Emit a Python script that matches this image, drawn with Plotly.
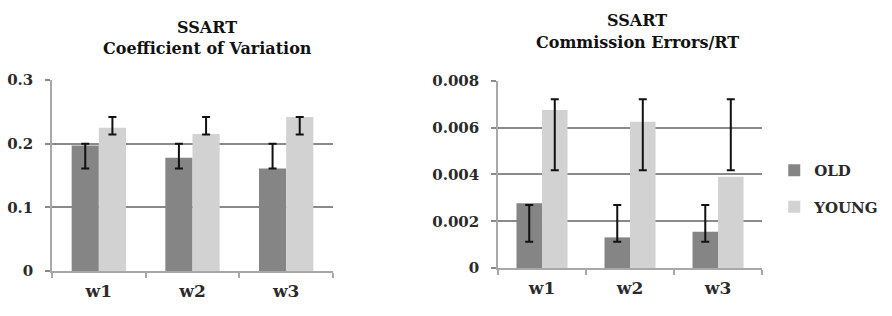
import plotly.graph_objects as go

categories = ["w1", "w2", "w3"]

# Left chart: Coefficient of Variation
cv_old = [0.197, 0.178, 0.161]
cv_young = [0.225, 0.215, 0.242]
cv_old_err_low = [0.161, 0.161, 0.161]
cv_old_err_high = [0.200, 0.200, 0.200]
cv_young_err_low = [0.2145, 0.2145, 0.2145]
cv_young_err_high = [0.242, 0.242, 0.242]

# Right chart: Commission Errors/RT
ce_old = [0.00277, 0.00131, 0.00155]
ce_young = [0.00676, 0.00626, 0.0039]
ce_old_err_low = [0.00112, 0.00112, 0.00112]
ce_old_err_high = [0.00270, 0.00270, 0.00270]
ce_young_err_low = [0.00418, 0.00418, 0.00418]
ce_young_err_high = [0.00722, 0.00722, 0.00722]

cv_ticks = [0, 0.1, 0.2, 0.3]
cv_tick_labels = ["<b>0</b>", "<b>0.1</b>", "<b>0.2</b>", "<b>0.3</b>"]
ce_ticks = [0, 0.002, 0.004, 0.006, 0.008]
ce_tick_labels = ["<b>0</b>", "<b>0.002</b>", "<b>0.004</b>", "<b>0.006</b>", "<b>0.008</b>"]
cat_labels = ["<b>w1</b>", "<b>w2</b>", "<b>w3</b>"]

OLD_COLOR = "#858585"
YOUNG_COLOR = "#d2d2d2"
FONT = "DejaVu Serif"
TXT = "#2a2a2a"

fig = go.Figure()


def add_panel(xa, ya, old, young, ol, oh, yl, yh, legend):
    fig.add_trace(go.Bar(x=categories, y=old, name="<b>OLD</b>", marker_color=OLD_COLOR,
                         marker_line_width=0, offsetgroup="old", xaxis=xa, yaxis=ya,
                         showlegend=legend, legendgroup="old"))
    fig.add_trace(go.Bar(x=categories, y=young, name="<b>YOUNG</b>", marker_color=YOUNG_COLOR,
                         marker_line_width=0, offsetgroup="young", xaxis=xa, yaxis=ya,
                         showlegend=legend, legendgroup="young"))
    for lo, hi, grp in [(ol, oh, "old"), (yl, yh, "young")]:
        mid = [(a + b) / 2 for a, b in zip(lo, hi)]
        half = [(b - a) / 2 for a, b in zip(lo, hi)]
        fig.add_trace(go.Bar(x=categories, y=mid, marker_color="rgba(0,0,0,0)",
                             marker_line_width=0, offsetgroup=grp, xaxis=xa, yaxis=ya,
                             showlegend=False, hoverinfo="skip",
                             error_y=dict(type="data", array=half, symmetric=True,
                                          color="#111111", thickness=2, width=4)))


add_panel("x", "y", cv_old, cv_young, cv_old_err_low, cv_old_err_high,
          cv_young_err_low, cv_young_err_high, False)
add_panel("x2", "y2", ce_old, ce_young, ce_old_err_low, ce_old_err_high,
          ce_young_err_low, ce_young_err_high, True)

axis_common_x = dict(showline=True, linecolor="#a8a8a8", linewidth=1.5,
                     ticks="outside", ticklen=5, tickcolor="#a8a8a8", tickwidth=1.5,
                     tickson="boundaries", showgrid=False, ticklabelstandoff=4,
                     tickvals=categories, ticktext=cat_labels, automargin=False,
                     tickfont=dict(family=FONT, size=17, color=TXT))
axis_common_y = dict(showline=True, linecolor="#a8a8a8", linewidth=1.5,
                     ticks="outside", ticklen=5, tickcolor="#8a8a8a", tickwidth=1.5,
                     showgrid=True, gridcolor="#8a8a8a", gridwidth=1.5,
                     zeroline=False, ticklabelstandoff=9, automargin=False,
                     tickfont=dict(family=FONT, size=15, color=TXT))

fig.update_layout(
    width=892, height=316,
    margin=dict(l=0, r=0, t=0, b=0),
    paper_bgcolor="white", plot_bgcolor="white",
    barmode="group", bargap=0.42, bargroupgap=0,
    xaxis=dict(domain=[0.0583, 0.3733], anchor="y", **axis_common_x),
    yaxis=dict(domain=[0.1424, 0.7468], anchor="x", range=[0, 0.3],
               tickvals=cv_ticks, ticktext=cv_tick_labels, **axis_common_y),
    xaxis2=dict(domain=[0.5583, 0.8543], anchor="y2", **axis_common_x),
    yaxis2=dict(domain=[0.1519, 0.7437], anchor="x2", range=[0, 0.008],
                tickvals=ce_ticks, ticktext=ce_tick_labels, **axis_common_y),
    legend=dict(x=0.868, y=0.513, xanchor="left", yanchor="top",
                font=dict(family=FONT, size=15, color=TXT), itemwidth=30,
                tracegroupgap=14, bgcolor="rgba(0,0,0,0)"),
    annotations=[
        dict(text="<b>SSART</b>", x=207/892, y=1-27/316, xref="paper", yref="paper",
             xanchor="center", yanchor="middle",
             showarrow=False, font=dict(family=FONT, size=16, color="#111111")),
        dict(text="<b>Coefficient of Variation</b>", x=207/892, y=1-48/316, xref="paper",
             yref="paper", xanchor="center", yanchor="middle",
             showarrow=False, font=dict(family=FONT, size=16, color="#111111")),
        dict(text="<b>SSART</b>", x=637/892, y=1-20/316, xref="paper", yref="paper",
             xanchor="center", yanchor="middle",
             showarrow=False, font=dict(family=FONT, size=16, color="#111111")),
        dict(text="<b>Commission Errors/RT</b>", x=637/892, y=1-42/316, xref="paper",
             yref="paper", xanchor="center", yanchor="middle",
             showarrow=False, font=dict(family=FONT, size=16, color="#111111")),
    ],
)

fig.write_html("out.html", config={"displayModeBar": False},
               post_script="document.body.style.margin='0';document.body.style.overflow='hidden';")
